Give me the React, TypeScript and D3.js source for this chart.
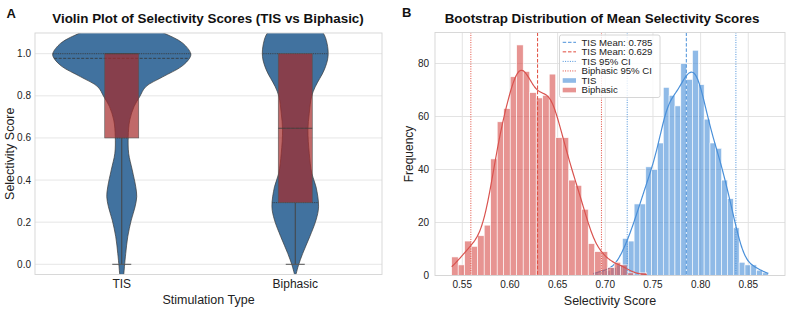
import * as d3 from "d3";

const FONT = "'Liberation Sans', Arial, Helvetica, sans-serif";

// ---------- panel A: violin + box ----------
const groups = ["TIS", "Biphasic"];
const yTicksA = [0, 0.2, 0.4, 0.6, 0.8, 1.0];

// violin outlines as [score, relative density]
const tisViolin: [number, number][] = [
  [1.19, 0.02], [1.16, 0.12], [1.13, 0.35], [1.1, 0.594], [1.05, 0.884], [1.0, 1.0],
  [0.98, 0.985], [0.94, 0.87], [0.89, 0.594], [0.843, 0.348], [0.796, 0.26], [0.75, 0.18],
  [0.685, 0.116], [0.606, 0.094], [0.527, 0.1], [0.448, 0.152], [0.368, 0.203], [0.321, 0.217],
  [0.273, 0.193], [0.21, 0.138], [0.131, 0.087], [0.052, 0.058], [-0.011, 0.039],
  [-0.047, 0.029], [-0.08, 0.007],
];
const biphasicViolin: [number, number][] = [
  [1.19, 0.05], [1.15, 0.2], [1.1, 0.4], [1.05, 0.46], [0.986, 0.475], [0.923, 0.42],
  [0.843, 0.29], [0.796, 0.236], [0.717, 0.203], [0.637, 0.184], [0.527, 0.203], [0.432, 0.239],
  [0.368, 0.301], [0.273, 0.338], [0.21, 0.301], [0.131, 0.21], [0.052, 0.109],
  [-0.003, 0.048], [-0.043, 0.0145], [-0.06, 0],
];
const violins = [tisViolin, biphasicViolin];
// quartiles of the density (q1, median, q3)
const violinQuartiles = [[0.6, 0.978, 1.0], [0.293, 0.646, 1.0]];

const boxLow = [0.6, 0.293];
const boxHigh = [1.0, 1.0];
const boxMedian = [1.0, 0.646];
const whiskerLow = [0.0, 0.0];

// ---------- panel B: bootstrap histograms ----------
const xTicksB = [0.55, 0.6, 0.65, 0.7, 0.75, 0.8, 0.85];
const yTicksB = [0, 20, 40, 60, 80];

const tisRange = [0.6874, 0.871];
const tisCounts = [
  1, 2, 2, 3, 4, 14, 13, 27, 27, 41, 40, 50, 71, 68, 64,
  80, 74, 85, 72, 59, 50, 48, 36, 29, 18, 5, 4, 4, 2, 1,
];
const biphasicRange = [0.5389, 0.7435];
const biphasicCounts = [
  7, 4, 13, 11, 15, 19, 44, 58, 63, 75, 87, 77, 69, 67, 68,
  76, 52, 52, 36, 34, 25, 12, 9, 9, 3, 5, 4, 1, 0, 1,
];

const tisMean = 0.785;
const biphasicMean = 0.629;
const tisCI = [0.723, 0.837];
const biphasicCI = [0.559, 0.696];

const legendLabels = [
  "TIS Mean: 0.785",
  "TIS Mean: 0.629",
  "TIS 95% CI",
  "Biphasic 95% CI",
  "TIS",
  "Biphasic",
];

const BLUE = "#4A90D9";
const RED = "#D9534F";
const VLINE_RED = "#E04A3C";
const VIOLIN = "#41729F";

// gaussian kde over the binned counts, scaled to counts per bin
function kdeCurve(counts: number[], range: number[]) {
  const [lo, hi] = range;
  const w = (hi - lo) / counts.length;
  const centers = counts.map((_, i) => lo + (i + 0.5) * w);
  const n = d3.sum(counts);
  const mean = d3.sum(counts, (c, i) => c * centers[i]) / n;
  const variance = d3.sum(counts, (c, i) => c * (centers[i] - mean) ** 2) / (n - 1);
  const bw = Math.sqrt(variance) * Math.pow(n, -0.2);
  const k = (u: number) => Math.exp(-0.5 * u * u) / Math.sqrt(2 * Math.PI);
  return d3.range(0, 201).map((j) => {
    const x = lo + ((hi - lo) * j) / 200;
    const d = d3.sum(counts, (c, i) => c * k((x - centers[i]) / bw)) / bw;
    return [x, d * w] as [number, number];
  });
}

function ViolinPanel() {
  const left = 35, right = 382, top = 33, bottom = 274.5;
  const x = d3.scalePoint<string>().domain(groups).range([left, right]).padding(0.5);
  const yS = d3.scaleLinear().domain([0, 1]).range([264.3, 53.7]);
  const half = d3.scaleLinear().domain([0, 1]).range([0, 69]);
  const boxHalf = 17;
  const capHalf = 9.5;

  return (
    <g fontFamily={FONT}>
      <defs>
        <clipPath id="clipA">
          <rect x={left} y={top} width={right - left} height={bottom - top} />
        </clipPath>
      </defs>
      {yTicksA.map((t) => (
        <line key={t} x1={left} x2={right} y1={yS(t)} y2={yS(t)} stroke="#e3e3e3" strokeWidth={0.9} />
      ))}
      <g clipPath="url(#clipA)">
        {violins.map((prof, gi) => {
          const cx = x(groups[gi])!;
          const area = d3
            .area<[number, number]>()
            .y((d) => yS(d[0]))
            .x0((d) => cx - half(d[1]))
            .x1((d) => cx + half(d[1]))
            .curve(d3.curveCatmullRom);
          const widthAt = d3.scaleLinear().domain(prof.map((p) => p[0])).range(prof.map((p) => p[1]));
          return (
            <g key={gi}>
              <path d={area(prof)!} fill={VIOLIN} stroke="#3a3a3a" strokeWidth={0.7} />
              {violinQuartiles[gi].map((q, qi) => {
                const hw = half(widthAt(q));
                return (
                  <line
                    key={qi}
                    x1={cx - hw}
                    x2={cx + hw}
                    y1={yS(q)}
                    y2={yS(q)}
                    stroke="#333"
                    strokeWidth={0.8}
                    strokeDasharray={qi === 1 ? "3,1.5" : "1,0.8"}
                  />
                );
              })}
            </g>
          );
        })}
        {groups.map((g, gi) => {
          const cx = x(g)!;
          return (
            <g key={g}>
              <line x1={cx} x2={cx} y1={yS(boxLow[gi])} y2={yS(whiskerLow[gi])} stroke="#444" strokeWidth={1} />
              <line
                x1={cx - capHalf}
                x2={cx + capHalf}
                y1={yS(whiskerLow[gi])}
                y2={yS(whiskerLow[gi])}
                stroke="#555"
                strokeWidth={1}
              />
              <rect
                x={cx - boxHalf}
                y={yS(boxHigh[gi])}
                width={boxHalf * 2}
                height={yS(boxLow[gi]) - yS(boxHigh[gi])}
                fill="#A52A2A"
                fillOpacity={0.7}
                stroke="#555"
                strokeWidth={0.6}
              />
              <line
                x1={cx - boxHalf}
                x2={cx + boxHalf}
                y1={yS(boxMedian[gi])}
                y2={yS(boxMedian[gi])}
                stroke="#444"
                strokeWidth={0.9}
              />
            </g>
          );
        })}
      </g>
      <rect x={left} y={top} width={right - left} height={bottom - top} fill="none" stroke="#d4d4d4" strokeWidth={0.9} />
      {yTicksA.map((t) => (
        <text key={t} x={31} y={yS(t)} dy="0.35em" textAnchor="end" fontSize={10} fill="#222">
          {t.toFixed(1)}
        </text>
      ))}
      {groups.map((g) => (
        <text key={g} x={x(g)} y={288} textAnchor="middle" fontSize={12} fill="#222">
          {g}
        </text>
      ))}
      <text x={208.5} y={304} textAnchor="middle" fontSize={12.5} fill="#222">
        Stimulation Type
      </text>
      <text transform={`translate(14,${(top + bottom) / 2}) rotate(-90)`} textAnchor="middle" fontSize={12.5} fill="#222">
        Selectivity Score
      </text>
      <text x={208} y={23} textAnchor="middle" fontSize={13.4} fontWeight="bold" fill="#111">
        Violin Plot of Selectivity Scores (TIS vs Biphasic)
      </text>
      <text x={6.5} y={18} fontSize={13} fontWeight="bold" fill="#111">
        A
      </text>
    </g>
  );
}

function HistPanel() {
  const left = 435, right = 785, top = 32.5, bottom = 275.5;
  const x = d3.scaleLinear().domain([0.5214, 0.8885]).range([left, right]);
  const y = d3.scaleLinear().domain([0, 91.7]).range([bottom, top]);
  const line = d3
    .line<[number, number]>()
    .x((d) => x(d[0]))
    .y((d) => y(d[1]))
    .curve(d3.curveBasis);

  const bars = (counts: number[], range: number[], color: string) => {
    const w = (range[1] - range[0]) / counts.length;
    return counts.map((c, i) => {
      const x0 = range[0] + i * w;
      return (
        <rect
          key={i}
          x={x(x0)}
          y={y(c)}
          width={x(x0 + w) - x(x0)}
          height={y(0) - y(c)}
          fill={color}
          fillOpacity={0.62}
          stroke="#fff"
          strokeWidth={0.6}
        />
      );
    });
  };

  const vline = (v: number, color: string, dash: string, key: string) => (
    <line key={key} x1={x(v)} x2={x(v)} y1={top} y2={bottom} stroke={color} strokeWidth={1} strokeDasharray={dash} />
  );

  const lx = 559.5, ly = 35, lw = 100.5, lh = 62.5;
  const handles = [
    { color: BLUE, dash: "3.5,1.8", patch: false },
    { color: VLINE_RED, dash: "3.5,1.8", patch: false },
    { color: BLUE, dash: "1,1.4", patch: false },
    { color: VLINE_RED, dash: "1,1.4", patch: false },
    { color: BLUE, dash: "", patch: true },
    { color: RED, dash: "", patch: true },
  ];

  return (
    <g fontFamily={FONT}>
      <defs>
        <clipPath id="clipB">
          <rect x={left} y={top} width={right - left} height={bottom - top} />
        </clipPath>
      </defs>
      {xTicksB.map((t) => (
        <line key={t} x1={x(t)} x2={x(t)} y1={top} y2={bottom} stroke="#e0e0e0" strokeWidth={0.9} />
      ))}
      {yTicksB.map((t) => (
        <line key={t} x1={left} x2={right} y1={y(t)} y2={y(t)} stroke="#e0e0e0" strokeWidth={0.9} />
      ))}
      <g clipPath="url(#clipB)">
        {bars(tisCounts, tisRange, BLUE)}
        <path d={line(kdeCurve(tisCounts, tisRange))!} fill="none" stroke={BLUE} strokeWidth={1.2} />
        {bars(biphasicCounts, biphasicRange, RED)}
        <path d={line(kdeCurve(biphasicCounts, biphasicRange))!} fill="none" stroke={RED} strokeWidth={1.2} />
        {vline(tisMean, BLUE, "3.5,1.8", "tm")}
        {vline(biphasicMean, VLINE_RED, "3.5,1.8", "bm")}
        {tisCI.map((v, i) => vline(v, BLUE, "1,1.4", "tc" + i))}
        {biphasicCI.map((v, i) => vline(v, VLINE_RED, "1,1.4", "bc" + i))}
      </g>
      <rect x={left} y={top} width={right - left} height={bottom - top} fill="none" stroke="#d4d4d4" strokeWidth={0.9} />
      {xTicksB.map((t) => (
        <text key={t} x={x(t)} y={288} textAnchor="middle" fontSize={10} fill="#222">
          {t.toFixed(2)}
        </text>
      ))}
      {yTicksB.map((t) => (
        <text key={t} x={429} y={y(t)} dy="0.35em" textAnchor="end" fontSize={10} fill="#222">
          {t}
        </text>
      ))}
      <text x={610} y={305} textAnchor="middle" fontSize={12.5} fill="#222">
        Selectivity Score
      </text>
      <text transform={`translate(413,${(top + bottom) / 2}) rotate(-90)`} textAnchor="middle" fontSize={12} fill="#222">
        Frequency
      </text>
      <text x={602} y={23} textAnchor="middle" fontSize={13.4} fontWeight="bold" fill="#111">
        Bootstrap Distribution of Mean Selectivity Scores
      </text>
      <text x={402} y={17} fontSize={13} fontWeight="bold" fill="#111">
        B
      </text>
      <g>
        <rect x={lx} y={ly} width={lw} height={lh} rx={2} fill="#fff" fillOpacity={0.8} stroke="#cccccc" strokeWidth={0.8} />
        {legendLabels.map((lab, i) => {
          const cy = 42.3 + i * 9.55;
          const h = handles[i];
          return (
            <g key={lab + i}>
              {h.patch ? (
                <rect x={562.7} y={cy - 2.3} width={13.3} height={4.6} fill={h.color} fillOpacity={0.62} />
              ) : (
                <line x1={562.7} x2={576} y1={cy} y2={cy} stroke={h.color} strokeWidth={1} strokeDasharray={h.dash} />
              )}
              <text x={581.5} y={cy} dy="0.35em" fontSize={9.6} fill="#222">
                {lab}
              </text>
            </g>
          );
        })}
      </g>
    </g>
  );
}

export default function App() {
  return (
    <svg
      width={794}
      height={310}
      viewBox="0 0 794 310"
      style={{ position: "absolute", left: 0, top: 0, background: "#fff" }}
    >
      <rect width={794} height={310} fill="#fff" />
      <ViolinPanel />
      <HistPanel />
    </svg>
  );
}
